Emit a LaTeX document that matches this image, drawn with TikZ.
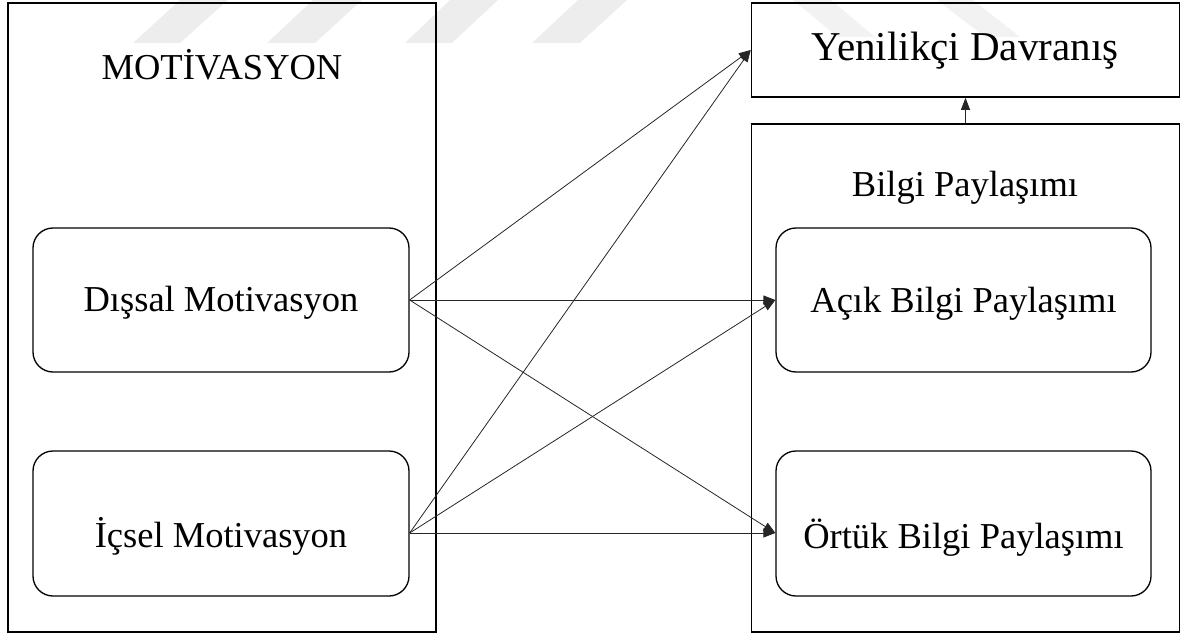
\documentclass[tikz,border=0pt]{standalone}
\usepackage{fontspec}
\setmainfont{Liberation Serif}
\usetikzlibrary{arrows.meta,calc}
\begin{document}
\begin{tikzpicture}[x=1pt,y=-1pt,
  frame/.style={draw=black,line width=1.6pt,rectangle,inner sep=0pt},
  rbox/.style={draw=black,line width=1.3pt,rectangle,rounded corners=20pt,inner sep=0pt},
  lbl/.style={anchor=base,inner sep=0pt,font=\fontsize{36.5}{40}\selectfont},
  biglbl/.style={lbl,font=\fontsize{41}{45}\selectfont},
  link/.style={draw=black!85,line width=0.8pt,-{Triangle[length=12pt,width=9pt]}},
  wmark/.style={fill=black!7,draw=none}
]
\useasboundingbox (0,0) rectangle (1184,634);

% faint stripes in the background
\fill[wmark] (133,43) -- (180,43) -- (228,0) -- (180,0) -- cycle;
\fill[wmark] (267,43) -- (315,43) -- (362,0) -- (313,0) -- cycle;
\fill[wmark] (405,43) -- (452,43) -- (498,0) -- (450,0) -- cycle;
\fill[wmark] (532,43) -- (580,43) -- (627,0) -- (578,0) -- cycle;
\fill[wmark,fill=black!5] (793,0) -- (831,0) -- (875,37) -- (838,37) -- cycle;
\fill[wmark,fill=black!5] (937,0) -- (973,0) -- (1020,37) -- (985,37) -- cycle;

% outer frames
\node[frame,minimum width=428pt,minimum height=629pt] (motiv) at (222,317.5) {};
\node[frame,minimum width=428pt,minimum height=94pt] (yeni) at (965.5,50) {};
\node[frame,minimum width=428pt,minimum height=508pt] (bilgi) at (965.5,378) {};

% inner rounded boxes
\node[rbox,minimum width=376pt,minimum height=144pt] (dis) at (221,300) {};
\node[rbox,minimum width=376pt,minimum height=145pt] (ic) at (221,523.5) {};
\node[rbox,minimum width=375pt,minimum height=144pt] (acik) at (963.5,300) {};
\node[rbox,minimum width=375pt,minimum height=145pt] (ortuk) at (963.5,523.5) {};

% labels
\node[lbl] (tmotiv) at (222,80) {MOTİVASYON};
\node[biglbl] (tyeni) at (965,61) {Yenilikçi Davranış};
\node[lbl] (tbilgi) at (965,196) {Bilgi Paylaşımı};
\node[lbl] (tdis) at (221,311) {Dışsal Motivasyon};
\node[lbl] (tic) at (221,547) {İçsel Motivasyon};
\node[lbl] (tacik) at (963.5,312) {Açık Bilgi Paylaşımı};
\node[lbl] (tortuk) at (963.5,548) {Örtük Bilgi Paylaşımı};

% connectors
\coordinate (icout) at ($(ic.east)+(0,9.5)$);
\coordinate (ortin) at ($(ortuk.west)+(0,9.5)$);
\draw[link] (dis.east) -- (yeni.west);
\draw[link] (dis.east) -- (acik.west);
\draw[link] (dis.east) -- (ortin);
\draw[link] (icout) -- (yeni.west);
\draw[link] (icout) -- (acik.west);
\draw[link] (icout) -- (ortin);
\draw[link] (bilgi.north) -- (yeni.south);
\end{tikzpicture}
\end{document}
